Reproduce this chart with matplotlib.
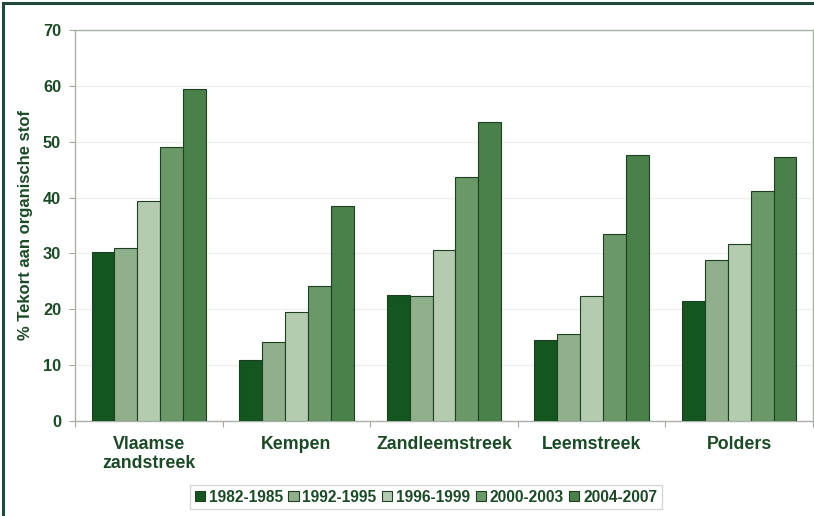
import matplotlib.pyplot as plt
import numpy as np
from matplotlib.patches import Rectangle

regions = ["Vlaamse\nzandstreek", "Kempen", "Zandleemstreek", "Leemstreek", "Polders"]
periods = ["1982-1985", "1992-1995", "1996-1999", "2000-2003", "2004-2007"]

v1982 = [30.3, 10.9, 22.6, 14.5, 21.4]
v1992 = [30.9, 14.1, 22.4, 15.5, 28.8]
v1996 = [39.4, 19.6, 30.7, 22.4, 31.6]
v2000 = [49.0, 24.2, 43.6, 33.5, 41.2]
v2004 = [59.5, 38.5, 53.5, 47.6, 47.3]

series = [v1982, v1992, v1996, v2000, v2004]
colors = ["#13561f", "#8fb08a", "#b4cbb0", "#6a9868", "#4a804a"]
txt = "#1b4a26"

plt.rcParams['font.family'] = ['Liberation Sans', 'DejaVu Sans']
plt.rcParams['font.weight'] = 'bold'

fig = plt.figure(figsize=(8.14, 5.16), dpi=100)
ax = fig.add_axes([75 / 814, 1 - 421 / 516, 738 / 814, 391 / 516])

x = np.arange(len(regions))
width = 0.155
for i, (vals, col) in enumerate(zip(series, colors)):
    offset = (i - 2) * width
    ax.bar(x + offset, vals, width, color=col, edgecolor="#1e3f22",
           linewidth=0.8, label=periods[i], zorder=3)

ax.set_xlim(-0.5, len(regions) - 0.5)
ax.set_ylim(0, 70)
ax.set_yticks(range(0, 71, 10))
ax.set_xticks(np.arange(-0.5, len(regions)), minor=False)
ax.set_xticklabels([])
ax.set_xticks(x, minor=True)
ax.set_xticklabels(regions, minor=True, fontsize=12.8, fontweight='bold', color=txt,
                   linespacing=1.15)
ax.tick_params(axis='x', which='minor', length=0, pad=11)
ax.tick_params(axis='x', which='major', length=4, color="#a0a8a0")
ax.tick_params(axis='y', length=4, color="#a0a8a0", labelsize=11.8, labelcolor=txt, pad=6)
for lab in ax.get_yticklabels():
    lab.set_fontweight('bold')

ax.grid(axis='y', color="#eef0ee", linewidth=1, zorder=0)
for s in ax.spines.values():
    s.set_color("#a8b0a8")
    s.set_linewidth(1)

ax.set_ylabel("% Tekort aan organische stof", fontsize=12, fontweight='bold',
              color=txt, labelpad=7)

leg = fig.legend(loc='center', bbox_to_anchor=(426 / 814, 1 - 497 / 516), ncols=5,
                 frameon=True, fancybox=False, edgecolor="#c8cec8",
                 handlelength=0.65, handleheight=0.65, handletextpad=0.25,
                 columnspacing=0.35, borderpad=0.3, borderaxespad=0.2,
                 prop={'size': 11.2, 'weight': 'bold'})
for t in leg.get_texts():
    t.set_color(txt)

# outer frame
fig.patches.append(Rectangle((3 / 814, -0.01), 1.02, 1 - 3 / 516 + 0.01, transform=fig.transFigure,
                             fill=False, edgecolor="#1f4a3a", linewidth=2.2))

plt.savefig("out.png", dpi=100)
